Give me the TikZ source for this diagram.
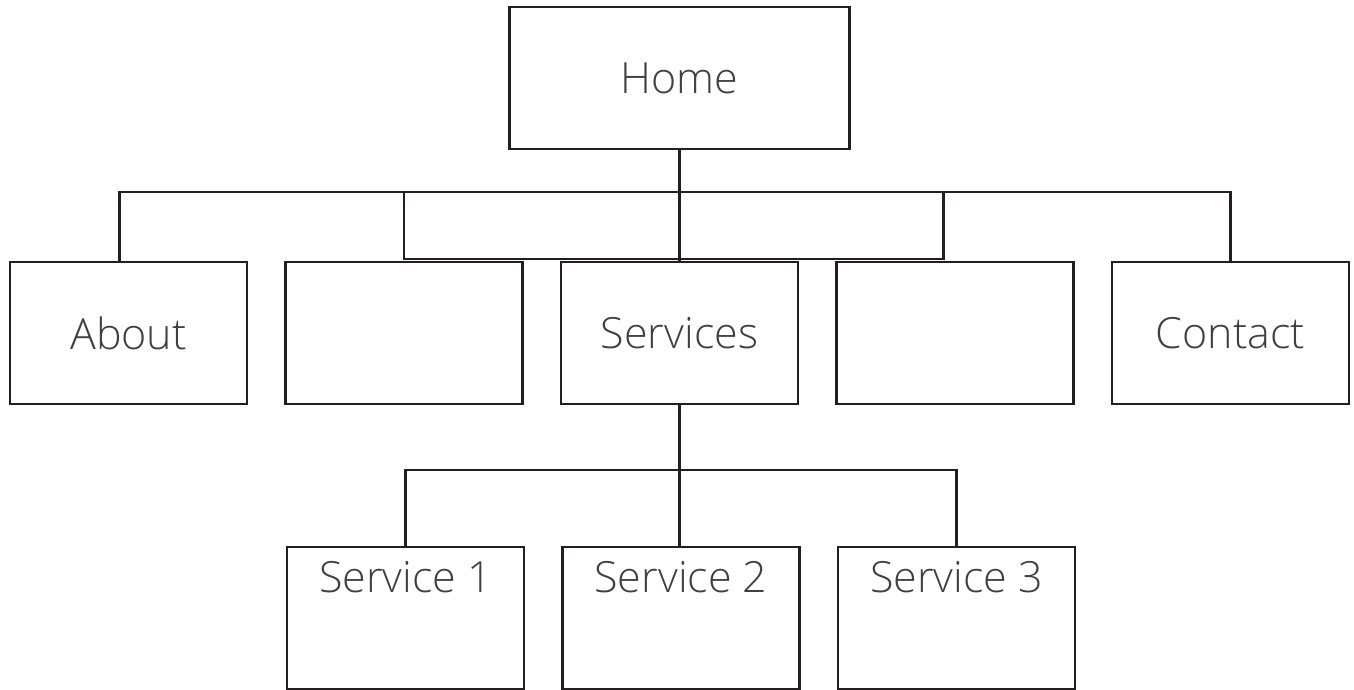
\documentclass[tikz,border=0pt]{standalone}
\usepackage{fontspec}
\setmainfont{Open Sans Light}
\usepackage{xcolor}
\usetikzlibrary{positioning}
\definecolor{lineblack}{RGB}{35,31,32}
\definecolor{textgrey}{RGB}{64,64,64}

\begin{document}
\begin{tikzpicture}[x=1pt,y=-1pt,node distance=38.5pt,
    page/.style={rectangle,draw=lineblack,line width=2.8pt,outer sep=0pt,
      minimum width=237pt,minimum height=142pt,text=textgrey,
      font=\fontsize{43}{50}\selectfont},
    link/.style={draw=lineblack,line width=2.8pt}]
    \useasboundingbox (0,0) rectangle (1354,690);

    % second level
    \node[page] (services) at (679.5,333) {Services};
    \node[page,left=of services] (blankA) {};
    \node[page,left=of blankA] (about) {About};
    \node[page,right=of services] (blankB) {};
    \node[page,right=of blankB] (contact) {Contact};

    % top
    \node[page,minimum width=340pt,above=113pt of services] (home) {Home};

    % third level
    \node[page,below=143pt of services,xshift=1.5pt] (serv2) {};
    \node[page,left=of serv2] (serv1) {};
    \node[page,right=of serv2] (serv3) {};
    \foreach \s/\t in {serv1/Service 1,serv2/Service 2,serv3/Service 3}
      \node[text=textgrey,font=\fontsize{43}{50}\selectfont,inner sep=0pt,
        anchor=north,below=14.5pt of \s.north] (\s-label) {\t};

    \coordinate (bus) at ([yshift=-43pt]home.south);
    \coordinate (subbus) at ([yshift=-66pt]services.south);

    \draw[link] (home.south) -- (services.north);
    \draw[link] ([xshift=-9pt]about.north) |- (bus) -| (contact.north);
    \draw[link] ([yshift=3pt]blankA.north) |- (bus)
      -| ([xshift=-11.5pt,yshift=3pt]blankB.north) -- cycle;
    \draw[link] (services.south) -- (services.south |- serv2.north);
    \draw[link] (serv1.north) |- (subbus) -| (serv3.north);

\end{tikzpicture}
\end{document}
